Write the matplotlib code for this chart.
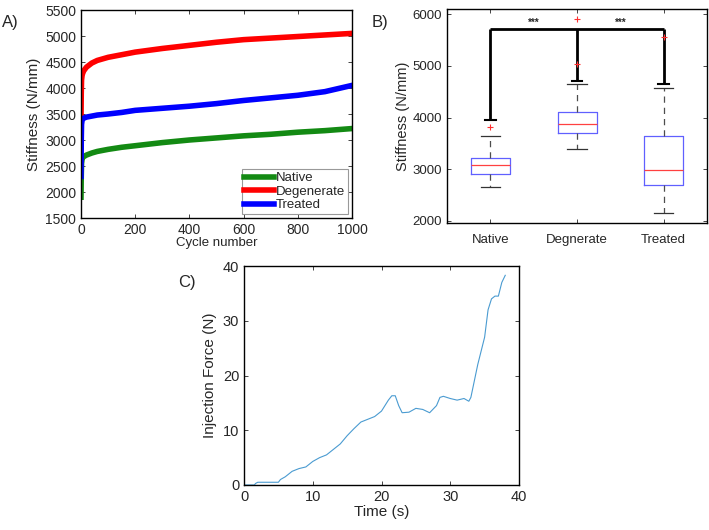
import numpy as np
import matplotlib
matplotlib.use('Agg')
import matplotlib.pyplot as plt

plt.rcParams['font.family'] = ['Liberation Sans', 'DejaVu Sans']
plt.rcParams['text.color'] = '#262626'
plt.rcParams['axes.labelcolor'] = '#262626'
plt.rcParams['xtick.color'] = '#262626'
plt.rcParams['ytick.color'] = '#262626'

# --- A) stiffness vs cycle number ---
cycles = [0, 1, 2, 4, 6, 10, 20, 40, 60, 100, 150, 200, 300, 400, 500, 600, 700, 800, 900, 1000]
native = [1900, 2300, 2550, 2630, 2660, 2680, 2710, 2750, 2780, 2820, 2860, 2890, 2950, 3000, 3040,
          3080, 3110, 3150, 3180, 3220]
degenerate = [3400, 3900, 4150, 4240, 4280, 4330, 4400, 4480, 4530, 4590, 4640, 4690, 4760, 4820, 4880,
              4930, 4960, 4990, 5020, 5050]
treated = [2300, 3000, 3300, 3380, 3400, 3420, 3440, 3460, 3480, 3500, 3530, 3570, 3610, 3650, 3700,
           3760, 3810, 3860, 3930, 4050]

# --- B) boxplot stats ---
groups = ['Native', 'Degnerate', 'Treated']
q1 = [2900, 3710, 2700]
med = [3090, 3870, 2990]
q3 = [3220, 4110, 3640]
whislo = [2650, 3390, 2150]
whishi = [3640, 4650, 4570]
fliers = [[3810], [5030, 5910], [5550]]
bracket_y = 5710
bracket_legs = [3960, 4700, 4640]

# --- C) injection force ---
time_s = [0, 1.5, 1.7, 2, 5, 5.3, 6, 7, 8, 9, 10, 11, 12, 13, 14, 15, 16, 17, 18, 19, 20, 21, 21.5,
          22, 22.5, 23, 24, 25, 26, 27, 28, 28.5, 29, 30, 31, 32, 32.7, 33, 33.5, 34, 35, 35.5, 36,
          36.5, 37, 37.5, 38]
force = [0, 0, 0.3, 0.5, 0.5, 1, 1.5, 2.5, 3, 3.3, 4.3, 5, 5.5, 6.5, 7.5, 9, 10.3, 11.5, 12, 12.5,
         13.5, 15.5, 16.3, 16.3, 14.5, 13.2, 13.3, 14, 13.8, 13.2, 14.5, 16, 16.2, 15.8, 15.5, 15.8,
         15.3, 16, 19, 22, 27, 32, 34, 34.5, 34.5, 37, 38.3]

W, H = 709, 530
fig = plt.figure(figsize=(W / 100, H / 100), dpi=100)


def px_axes(left, top, right, bottom):
    return fig.add_axes([left / W, (H - bottom) / H, (right - left) / W, (bottom - top) / H])


def matlab_style(ax):
    ax.tick_params(direction='in', top=True, right=True, length=3, width=0.6)
    for s in ax.spines.values():
        s.set_linewidth(1.0)
        s.set_color('black')


# A
axA = px_axes(81, 10, 352, 218)
axA.plot(cycles, native, color='#138a13', lw=4, label='Native')
axA.plot(cycles, degenerate, color='#ff0000', lw=4, label='Degenerate')
axA.plot(cycles, treated, color='#0000ff', lw=4, label='Treated')
axA.set_xlim(0, 1000)
axA.set_ylim(1500, 5500)
axA.set_xticks([0, 200, 400, 600, 800, 1000])
axA.set_yticks(range(1500, 5501, 500))
matlab_style(axA)
axA.tick_params(labelsize=10)
axA.set_xlabel('Cycle number', fontsize=9.5, labelpad=0)
axA.set_ylabel('Stiffness (N/mm)', fontsize=11, labelpad=3)
leg = axA.legend(loc='lower right', fontsize=9.5, handlelength=2.2, handletextpad=0.2,
                 borderpad=0.2, labelspacing=0.1, fancybox=False, framealpha=1,
                 borderaxespad=0.3)
leg.get_frame().set_edgecolor('0.6')
leg.get_frame().set_linewidth(0.8)
fig.text(2 / W, 1 - 22 / H, 'A)', fontsize=12, va='center')

# B
axB = px_axes(447, 9, 707, 223)
stats = []
for i in range(3):
    stats.append(dict(q1=q1[i], med=med[i], q3=q3[i], whislo=whislo[i], whishi=whishi[i],
                      fliers=fliers[i]))
# significance bracket (under the outlier markers)
axB.plot([1, 3], [bracket_y, bracket_y], color='black', lw=2, solid_capstyle='butt', zorder=1)
for x, yl in zip([1, 2, 3], bracket_legs):
    axB.plot([x, x], [yl, bracket_y], color='black', lw=2, solid_capstyle='butt', zorder=1)
    axB.plot([x - 0.06, x + 0.06], [yl, yl], color='black', lw=1.5, zorder=1)
axB.text(1.5, bracket_y + 30, '***', ha='center', va='bottom', fontsize=7, fontweight='bold')
axB.text(2.5, bracket_y + 30, '***', ha='center', va='bottom', fontsize=7, fontweight='bold')
axB.bxp(stats, positions=[1, 2, 3], widths=0.45, showfliers=True,
        boxprops=dict(color='#6060ff', lw=0.9),
        medianprops=dict(color='#ff4040', lw=0.9),
        whiskerprops=dict(color='0.3', lw=0.9, ls=(0, (5, 4))),
        capprops=dict(color='0.2', lw=0.9),
        flierprops=dict(marker='+', markeredgecolor='#ff3030', markersize=5, mew=0.8, zorder=5))
axB.set_xlim(0.5, 3.5)
axB.set_ylim(1960, 6100)
axB.set_yticks([2000, 3000, 4000, 5000, 6000])
axB.set_xticks([1, 2, 3])
axB.set_xticklabels(groups)
matlab_style(axB)
axB.tick_params(labelsize=9.5)
axB.tick_params(axis='x', pad=8)
axB.set_ylabel('Stiffness (N/mm)', fontsize=10.5, labelpad=2)
fig.text(372 / W, 1 - 22 / H, 'B)', fontsize=12, va='center')

# C
axC = px_axes(244, 266, 519, 485)
axC.plot(time_s, force, color='#4a9bd1', lw=0.8)
axC.set_xlim(0, 40)
axC.set_ylim(0, 40)
axC.set_xticks([0, 10, 20, 30, 40])
axC.set_yticks([0, 10, 20, 30, 40])
matlab_style(axC)
axC.tick_params(labelsize=10.5)
axC.set_xlabel('Time (s)', fontsize=11, labelpad=1)
axC.set_ylabel('Injection Force (N)', fontsize=11, labelpad=4)
fig.text(178 / W, 1 - 282 / H, 'C)', fontsize=12, va='center')

fig.savefig('out.png', dpi=100)
